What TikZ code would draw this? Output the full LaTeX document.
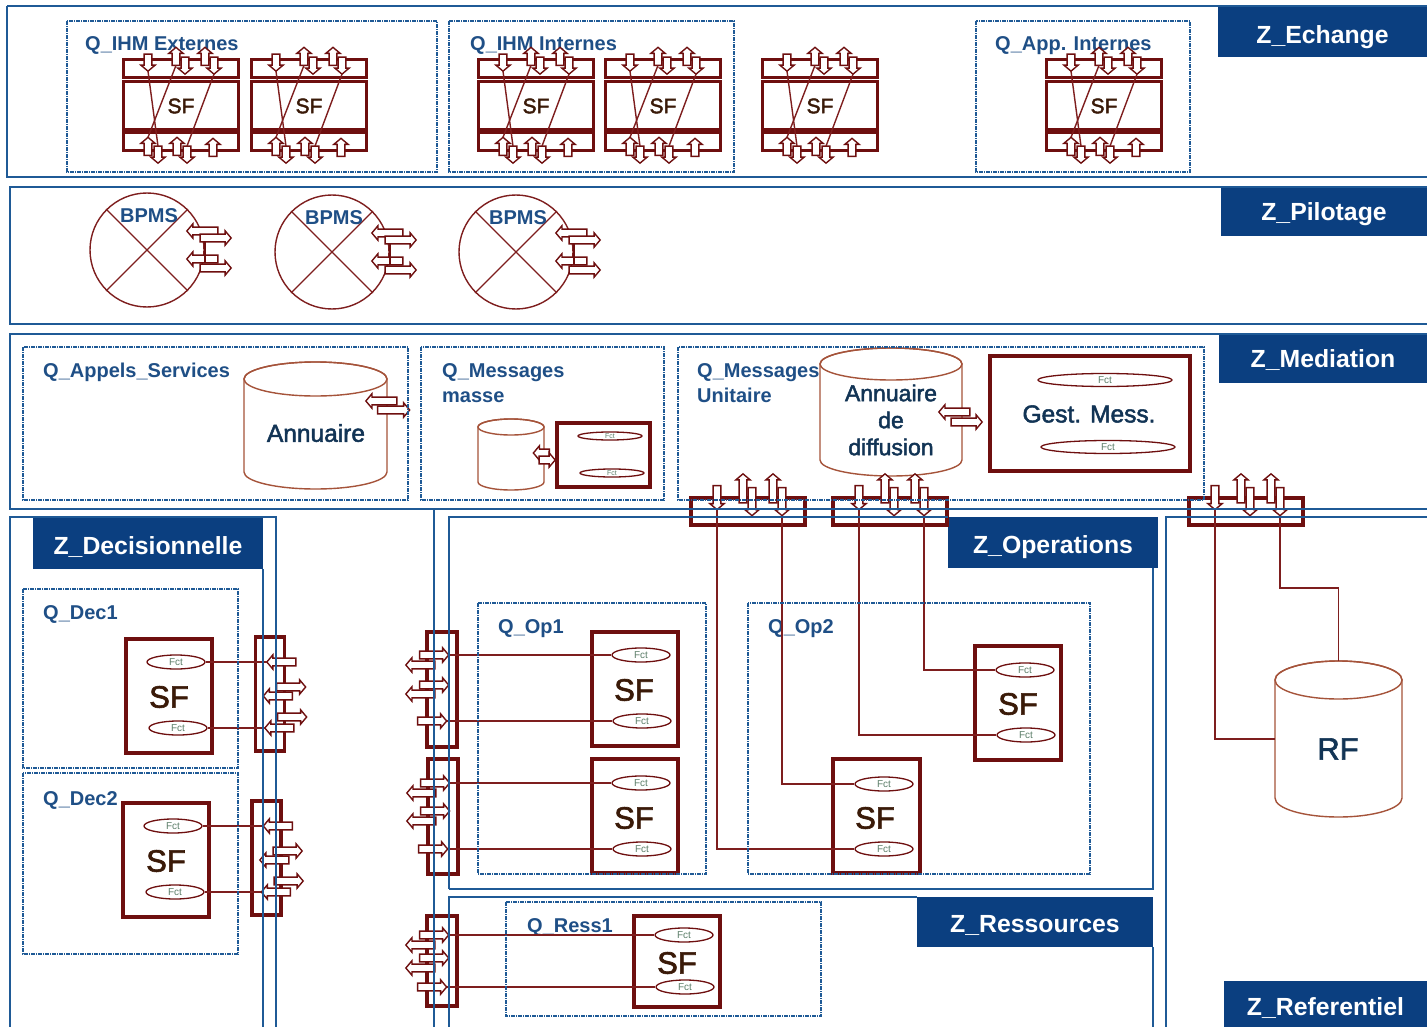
\documentclass[tikz,border=0pt]{standalone}
\usepackage{fontspec}
\setmainfont{Liberation Sans}
\newfontfamily\fbf[FakeBold=2]{Liberation Sans}
\usetikzlibrary{shapes.geometric,shapes.arrows}
\definecolor{zblue}{HTML}{0B3F80}
\definecolor{lblue}{HTML}{1F5A96}
\definecolor{qtext}{HTML}{1F4F86}
\definecolor{dred}{HTML}{6E0F0F}
\definecolor{lred}{HTML}{7E1E1E}
\definecolor{cylc}{HTML}{A5533A}
\definecolor{sfc}{HTML}{3A1A08}
\definecolor{ntext}{HTML}{123455}
\definecolor{fctc}{HTML}{5D7F6A}
\tikzset{
  zone/.style={draw=lblue,line width=1.3pt},
  qbox/.style={draw=lblue,line width=1.2pt,dash pattern=on 4pt off 1pt on 1pt off 1pt},
  tabn/.style={fill=zblue,text=white,inner sep=0pt,font=\fontsize{24.8}{28}\selectfont\bfseries},
  qlabel/.style={text=qtext,inner sep=0pt,anchor=base west,font=\fontsize{20}{22}\selectfont\bfseries},
  heavy/.style={draw=dred,line width=3.2pt},
  mid/.style={draw=dred,line width=3pt},
  link/.style={draw=lred,line width=1.4pt},
  barrowst/.style={single arrow,draw=dred,fill=white,line width=1.4pt,inner sep=0pt,outer sep=0pt,minimum width=14.5pt,single arrow head extend=0.6pt,single arrow tip angle=100},
  fct/.style={ellipse,draw=dred,fill=white,line width=1.3pt,inner sep=0pt,text=fctc,font=\fontsize{10}{10}\selectfont},
  sflabel/.style={text=sfc,inner sep=0pt,font=\fbf\fontsize{31}{31}\selectfont},
  cylb/.style={draw=cylc,line width=1.4pt},
  ntxt/.style={text=ntext,inner sep=0pt,align=center,font=\fbf\fontsize{24.5}{27}\selectfont}
}
% name, cx, cy, angle, length
\newcommand{\barw}[5]{\node[barrowst,minimum height=#5 pt,rotate=#4] (#1) at (#2,#3) {};}
% prefix, x0 : interface unit with its arrows
\newcommand{\sfunit}[2]{%
  \draw[mid] (#2,60) rectangle ({#2+115},78);
  \draw[mid] (#2,82) rectangle ({#2+115},130);
  \draw[dred,line width=5pt] (#2,132) -- ({#2+115},132);
  \draw[mid] (#2,132) rectangle ({#2+115},151);
  \node[text=sfc,inner sep=0pt,font=\fbf\fontsize{21}{21}\selectfont] (#1sf) at ({#2+58},106) {SF};
  \barw{#1ta}{{#2+25}}{61}{-90}{17}
  \barw{#1tb}{{#2+53}}{58}{90}{18}
  \barw{#1tc}{{#2+62}}{64}{-90}{17}
  \barw{#1td}{{#2+82}}{58}{90}{18}
  \barw{#1te}{{#2+91}}{64}{-90}{17}
  \barw{#1ba}{{#2+25}}{148}{90}{18}
  \barw{#1bb}{{#2+35}}{153}{-90}{17}
  \barw{#1bc}{{#2+54}}{148}{90}{18}
  \barw{#1bd}{{#2+64}}{153}{-90}{17}
  \barw{#1be}{{#2+90}}{149}{90}{18}
  \draw[link] (#1ta.tip) -- (#1bb.tail);
  \draw[link] (#1tb.tail) -- (#1ba.tip);
  \draw[link] (#1te.tip) -- (#1bd.tail);
}
% prefix, cx, cy
\newcommand{\bpms}[3]{%
  \node[circle,draw=lred,line width=1.4pt,inner sep=0pt,minimum size=114pt] (#1c) at (#2,#3) {};
  \draw[link] (#1c.45) -- (#1c.225);
  \draw[link] (#1c.135) -- (#1c.-45);
  \node[text=qtext,inner sep=0pt,font=\fontsize{20}{22}\selectfont\bfseries] (#1t) at ({#2+2},{#3-34}) {BPMS};
  \barw{#1a}{{#2+57}}{{#3-19}}{180}{31}
  \barw{#1b}{{#2+67}}{{#3-12}}{0}{31}
  \barw{#1d}{{#2+57}}{{#3+9}}{180}{31}
  \barw{#1e}{{#2+67}}{{#3+18}}{0}{31}
  \draw[mid,line width=1.8pt] ([shift={(5,4)}]#1b.tail) -- ([shift={(5,-5)}]#1e.tail);
}
% name, x1, x2, ytop, ybot, ry
\newcommand{\cyl}[6]{%
  \node[inner sep=0pt,minimum width={(#3-(#2))*1pt},minimum height={(#5-(#4))*1pt}] (#1) at ({(#2+#3)/2},{(#4+#5)/2}) {};
  \draw[cylb,fill=white] (#2,{#4+#6}) -- (#2,{#5-#6}) arc[start angle=180,end angle=360,x radius={(#3-(#2))/2*1pt},y radius=#6pt] -- (#3,{#4+#6}) arc[start angle=0,end angle=180,x radius={(#3-(#2))/2*1pt},y radius=#6pt];
  \draw[cylb] ({(#2+#3)/2},{#4+#6}) ellipse[x radius={(#3-(#2))/2*1pt},y radius=#6pt];
}
\newcommand{\sfbox}[5]{\draw[heavy] (#2,#3) rectangle (#4,#5);}
\newcommand{\fctn}[3]{\node[fct,minimum width=58pt,minimum height=14pt] (#1) at (#2,#3) {Fct};}
% top connector bar: prefix x0
\newcommand{\xtbar}[2]{%
  \draw[heavy] (#2,498) rectangle ({#2+114},525);
  \barw{#1a}{{#2+26}}{496}{-90}{24}
  \barw{#1b}{{#2+52}}{490}{90}{29}
  \barw{#1c}{{#2+61}}{500}{-90}{28}
  \barw{#1d}{{#2+82}}{490}{90}{29}
  \barw{#1e}{{#2+91}}{500}{-90}{28}
}
% decision bar: prefix x0 y0
\newcommand{\xdbar}[3]{%
  \draw[heavy] (#2,#3) rectangle ({#2+29},{#3+114});
  \barw{#1a}{{#2+27.5}}{{#3+25}}{180}{29}
  \barw{#1b}{{#2+34}}{{#3+50}}{0}{29}
  \barw{#1c}{{#2+24}}{{#3+59}}{180}{29}
  \barw{#1d}{{#2+35}}{{#3+80}}{0}{29}
  \barw{#1e}{{#2+25.5}}{{#3+91}}{180}{29}
}
% operation bar: prefix x0 y0 h y1 y3 y4 y5
\newcommand{\xobar}[8]{%
  \draw[heavy] (#2,#3) rectangle ({#2+30},{#3+#4});
  \barw{#1a}{{#2+5.5}}{#5}{0}{29}
  \barw{#1b}{{#2-5}}{{#5+10}}{180}{29}
  \barw{#1c}{{#2+5.5}}{#6}{0}{29}
  \barw{#1d}{{#2-5}}{#7}{180}{29}
  \barw{#1e}{{#2+3.5}}{#8}{0}{29}
}
\begin{document}
\begin{tikzpicture}[x=1pt,y=-1pt]
\useasboundingbox (0,0) rectangle (1427,1027);
\fill[white] (0,0) rectangle (1427,1027);
% tabs: name x1 y1 x2 y2 text drop
\newcommand{\ztab}[7]{\node[tabn,minimum width={(#4-#2)*1pt},minimum height={(#5-#3)*1pt}] (#1) at ({(#2+#4)/2},{(#3+#5)/2}) {\raisebox{-#7pt}[0pt][0pt]{#6}};}
\ztab{zech}{1218}{6}{1427}{57}{Z\_Echange}{12}
\ztab{zpil}{1221}{187}{1427}{236}{Z\_Pilotage}{9}
\ztab{zmed}{1219}{334}{1427}{383}{Z\_Mediation}{8.5}
\ztab{zdec}{33}{517}{263}{569}{Z\_Decisionnelle}{11.5}
\ztab{zope}{948}{517}{1158}{568}{Z\_Operations}{10.5}
\ztab{zres}{917}{897}{1153}{947}{Z\_Ressources}{10}
\ztab{zref}{1224}{981}{1427}{1027}{Z\_Referentiel}{11.5}
% Q labels
\node[qlabel] (q1) at (85,51) {Q\_IHM Externes};
\node[qlabel] (q2) at (470,51) {Q\_IHM Internes};
\node[qlabel] (q3) at (995,51) {Q\_App. Internes};
\node[qlabel] (q4) at (43,377) {Q\_Appels\_Services};
\node[qlabel] (q5) at (442,377) {Q\_Messages};
\node[qlabel] (q5b) at (442,402) {masse};
\node[qlabel] (q6) at (697,377) {Q\_Messages};
\node[qlabel] (q6b) at (697,402) {Unitaire};
\node[qlabel] (q7) at (43,619) {Q\_Dec1};
\node[qlabel] (q8) at (43,805) {Q\_Dec2};
\node[qlabel] (q9) at (498,633) {Q\_Op1};
\node[qlabel] (q10) at (768,633) {Q\_Op2};
\node[qlabel] (q11) at (527,932) {Q\_Ress1};
% echange units
\sfunit{ua}{123}\sfunit{ub}{251}\sfunit{uc}{478}\sfunit{ud}{605}\sfunit{ue}{762}\sfunit{uf}{1046}
% BPMS
\bpms{pa}{147}{250}\bpms{pb}{332}{252}\bpms{pc}{516}{252}
% Mediation
\cyl{annu}{244}{387}{362}{489}{17}
\node[ntxt] (annut) at (316,433) {Annuaire};
\barw{annua}{383}{401}{180}{31}
\barw{annub}{392}{410}{0}{32}
\cyl{mcyl}{478}{544}{419}{490}{8}
\draw[heavy] (557,423) rectangle (650,487);
\barw{mcyla}{543}{453}{180}{16}
\barw{mcylb}{545.5}{460}{0}{16}
\node[fct,minimum width=64pt,minimum height=8pt,font=\fontsize{7}{7}\selectfont] (mf1) at (610,436) {Fct};
\node[fct,minimum width=64pt,minimum height=8pt,font=\fontsize{7}{7}\selectfont] (mf2) at (612,473) {Fct};
\cyl{diff}{820}{962}{348}{476}{16}
\node[ntxt,font=\fbf\fontsize{23}{27}\selectfont] (difft) at (891,420) {Annuaire\\de\\diffusion};
\barw{diffa}{956}{412}{180}{31}
\barw{diffb}{965}{422}{0}{31}
\draw[heavy] (990,356) rectangle (1190,471);
\node[fct,minimum width=134pt,minimum height=13pt] (gf1) at (1105,380) {Fct};
\node[fct,minimum width=134pt,minimum height=13pt] (gf2) at (1108,447) {Fct};
\node[ntxt] (gest) at (1089,414) {Gest. Mess.};
% connector bars
\xtbar{ba}{691}\xtbar{bb}{833}\xtbar{bc}{1189}
% SF boxes
\newcommand{\sflab}[3]{\node[sflabel] (#1) at (#2,#3) {SF};}
\sfbox{sa}{126}{639}{212}{753}\sflab{sal}{169}{697}\fctn{saf}{176}{662}\fctn{sag}{178}{728}
\sfbox{sb}{123}{803}{209}{917}\sflab{sbl}{166}{861}\fctn{sbf}{173}{826}\fctn{sbg}{175}{892}
\sfbox{sc}{592}{632}{678}{746}\sflab{scl}{634}{690}\fctn{scf}{641}{655}\fctn{scg}{642}{721}
\sfbox{sd}{592}{759}{678}{873}\sflab{sdl}{634}{818}\fctn{sdf}{641}{783}\fctn{sdg}{642}{849}
\sfbox{se}{975}{646}{1061}{760}\sflab{sel}{1018}{704}\fctn{sef}{1025}{670}\fctn{seg}{1026}{735}
\sfbox{sf}{833}{759}{920}{873}\sflab{sfl}{875}{818}\fctn{sff}{884}{784}\fctn{sfg}{884}{849}
\sfbox{sg}{634}{916}{720}{1007}\sflab{sgl}{677}{963}\fctn{sgf}{684}{935}\fctn{sgg}{685}{987}
% side bars
\xdbar{da}{255.5}{637}\xdbar{db}{252}{801}
\xobar{oa}{427}{632}{115}{655}{685}{694}{721}
\xobar{ob}{428}{759}{115}{783}{811}{821}{849}
\xobar{oc}{427}{916}{90}{935}{958}{968}{987}
% RF
\cyl{rf}{1275}{1402}{661}{817}{19}
\node[ntxt,font=\fbf\fontsize{31}{31}\selectfont] (rft) at (1338,749) {RF};
% links
\draw[link] (saf.east) -- (daa.tip);
\draw[link] (sag.east) -- (dae.tip);
\draw[link] (sbf.east) -- (dba.tip);
\draw[link] (sbg.east) -- (dbe.tip);
\draw[link] (oaa.tip) -- (scf.west);
\draw[link] (oae.tip) -- (scg.west);
\draw[link] (oba.tip) -- (sdf.west);
\draw[link] (obe.tip) -- (sdg.west);
\draw[link] (oca.tip) -- (sgf.west);
\draw[link] (oce.tip) -- (sgg.west);
\draw[link] (baa.tip) |- (sfg.west);
\draw[link] (bae.tip) |- (sff.west);
\draw[link] (bba.tip) |- (seg.west);
\draw[link] (bbe.tip) |- (sef.west);
\draw[link] (bca.tip) |- (rf.west);
\coordinate (rfk) at (1280,588);
\draw[link] (bce.tip) -- (rfk) -| (rf.north);
% zones on top
\draw[zone] (7,6) -- (1432,6);
\draw[zone] (7,6) -- (7,177) -- (1432,177);
\draw[zone] (1432,187) -- (10,187) -- (10,324) -- (1432,324);
\draw[zone] (1432,334) -- (10,334) -- (10,509) -- (1432,509);
\draw[zone] (10,1032) -- (10,517) -- (276,517) -- (276,1032);
\draw[zone] (263,569) -- (263,1032);
\draw[zone] (434,1032) -- (434,509);
\draw[zone] (449,889) -- (449,517) -- (948,517);
\draw[zone] (449,889) -- (1153,889) -- (1153,568);
\draw[zone] (449,1032) -- (449,897) -- (917,897);
\draw[zone] (1153,947) -- (1153,1032);
\draw[zone] (1166,1032) -- (1166,517) -- (1432,517);
% Q boxes
\draw[qbox] (67,21) rectangle (437,172);
\draw[qbox] (449,21) rectangle (734,172);
\draw[qbox] (976,21) rectangle (1190,172);
\draw[qbox] (23,347) rectangle (408,500);
\draw[qbox] (421,347) rectangle (664,500);
\draw[qbox] (678,347) rectangle (1204,500);
\draw[qbox] (23,589) rectangle (238,768);
\draw[qbox] (23,773) rectangle (238,954);
\draw[qbox] (478,603) rectangle (706,874);
\draw[qbox] (748,603) rectangle (1090,874);
\draw[qbox] (506,902) rectangle (821,1016);
\end{tikzpicture}
\end{document}
